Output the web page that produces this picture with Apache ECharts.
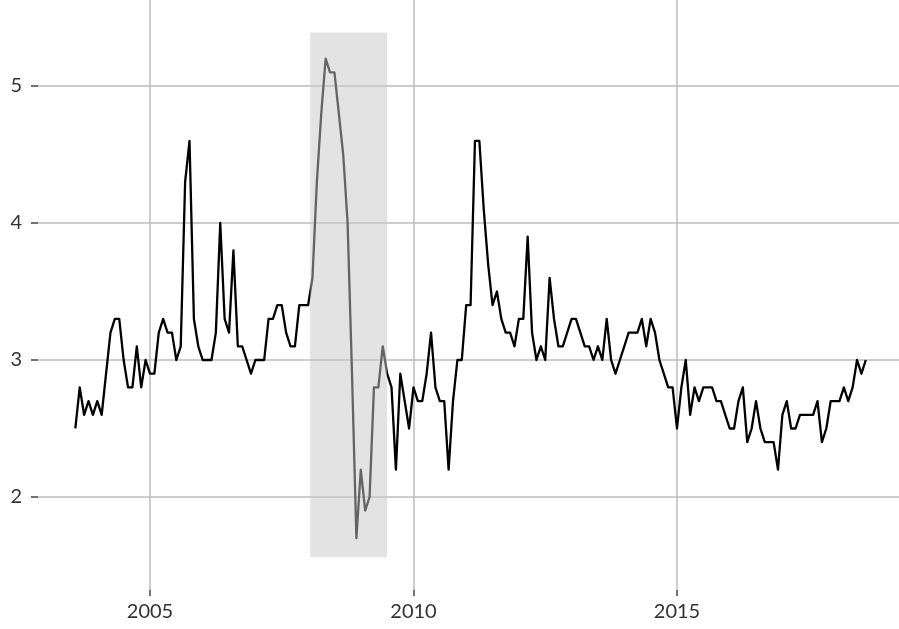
<!DOCTYPE html>
<html>
<head>
<meta charset="utf-8">
<script src="https://cdn.jsdelivr.net/npm/echarts@6/dist/echarts.min.js"></script>
<style>
html,body{margin:0;padding:0;background:#fff;}
#chart{width:899px;height:629px;}
</style>
</head>
<body>
<div id="chart"></div>
<script>
// Monthly series, Aug 2003 - Aug 2018
const startYear = 2003;
const startMonth = 8;
const values = [
  2.5, 2.8, 2.6, 2.7, 2.6, 2.7, 2.6, 2.9, 3.2, 3.3,
  3.3, 3.0, 2.8, 2.8, 3.1, 2.8, 3.0, 2.9, 2.9, 3.2,
  3.3, 3.2, 3.2, 3.0, 3.1, 4.3, 4.6, 3.3, 3.1, 3.0,
  3.0, 3.0, 3.2, 4.0, 3.3, 3.2, 3.8, 3.1, 3.1, 3.0,
  2.9, 3.0, 3.0, 3.0, 3.3, 3.3, 3.4, 3.4, 3.2, 3.1,
  3.1, 3.4, 3.4, 3.4, 3.6, 4.3, 4.8, 5.2, 5.1, 5.1,
  4.8, 4.5, 4.0, 2.9, 1.7, 2.2, 1.9, 2.0, 2.8, 2.8,
  3.1, 2.9, 2.8, 2.2, 2.9, 2.7, 2.5, 2.8, 2.7, 2.7,
  2.9, 3.2, 2.8, 2.7, 2.7, 2.2, 2.7, 3.0, 3.0, 3.4,
  3.4, 4.6, 4.6, 4.1, 3.7, 3.4, 3.5, 3.3, 3.2, 3.2,
  3.1, 3.3, 3.3, 3.9, 3.2, 3.0, 3.1, 3.0, 3.6, 3.3,
  3.1, 3.1, 3.2, 3.3, 3.3, 3.2, 3.1, 3.1, 3.0, 3.1,
  3.0, 3.3, 3.0, 2.9, 3.0, 3.1, 3.2, 3.2, 3.2, 3.3,
  3.1, 3.3, 3.2, 3.0, 2.9, 2.8, 2.8, 2.5, 2.8, 3.0,
  2.6, 2.8, 2.7, 2.8, 2.8, 2.8, 2.7, 2.7, 2.6, 2.5,
  2.5, 2.7, 2.8, 2.4, 2.5, 2.7, 2.5, 2.4, 2.4, 2.4,
  2.2, 2.6, 2.7, 2.5, 2.5, 2.6, 2.6, 2.6, 2.6, 2.7,
  2.4, 2.5, 2.7, 2.7, 2.7, 2.8, 2.7, 2.8, 3.0, 2.9, 3.0
];
const xTicks = [2005, 2010, 2015];
const yTicks = [2, 3, 4, 5];
const recessionX = [2008.04, 2009.5];
const recessionY = [1.56, 5.39];

const seriesData = values.map((v, i) => [startYear + (startMonth - 1 + i) / 12, v]);

const chart = echarts.init(document.getElementById('chart'), null, {renderer: 'canvas'});
const labelStyle = {color: '#333', fontFamily: 'Lato', fontSize: 20};
chart.setOption({
  animation: false,
  backgroundColor: '#ffffff',
  grid: {left: 38, right: 0, top: 0, bottom: 39, containLabel: false},
  xAxis: {
    type: 'value',
    min: 2002.875,
    max: 2019.213,
    axisLine: {show: false},
    axisTick: {show: true, length: 6, customValues: xTicks, lineStyle: {color: '#444', width: 1.5}},
    axisLabel: Object.assign({margin: 12, customValues: xTicks, formatter: v => String(v)}, labelStyle),
    splitLine: {show: true, lineStyle: {color: '#bdbdbd', width: 1.5}}
  },
  yAxis: {
    type: 'value',
    min: 1.321,
    max: 5.628,
    axisLine: {show: false},
    axisTick: {show: true, length: 7, customValues: yTicks, lineStyle: {color: '#444', width: 1.5}},
    axisLabel: Object.assign({margin: 16, customValues: yTicks, formatter: v => String(v)}, labelStyle),
    splitLine: {show: true, lineStyle: {color: '#bdbdbd', width: 1.5}}
  },
  series: [
    {
      type: 'line',
      data: seriesData,
      showSymbol: false,
      symbol: 'none',
      z: 2,
      lineStyle: {color: '#000', width: 2.3, join: 'round'},
      silent: true
    },
    {
      type: 'line',
      data: seriesData,
      showSymbol: false,
      symbol: 'none',
      z: 10,
      lineStyle: {opacity: 0},
      silent: true,
      markArea: {
        silent: true,
        z: 20,
        itemStyle: {color: 'rgba(200,200,200,0.5)'},
        data: [[
          {coord: [recessionX[0], recessionY[1]]},
          {coord: [recessionX[1], recessionY[0]]}
        ]]
      }
    }
  ]
});
</script>
</body>
</html>
